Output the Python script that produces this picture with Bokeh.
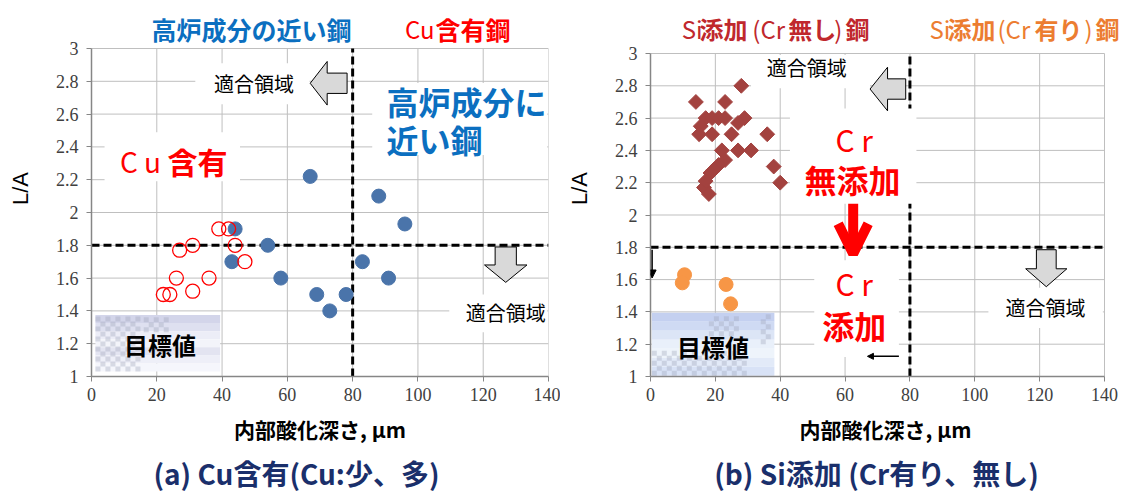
import numpy as np
from bokeh.plotting import figure
from bokeh.layouts import row, column
from bokeh.models import FixedTicker, Label, Arrow, OpenHead, NormalHead, Range1d
from bokeh.core.properties import value
from bokeh.embed import file_html
from bokeh.resources import INLINE

# ---- axis ticks ----
x_ticks = [0, 20, 40, 60, 80, 100, 120, 140]
y_ticks = [1.0, 1.2, 1.4, 1.6, 1.8, 2.0, 2.2, 2.4, 2.6, 2.8, 3.0]
y_tick_labels = ["1", "1.2", "1.4", "1.6", "1.8", "2", "2.2", "2.4", "2.6", "2.8", "3"]

# ---- (a) Cu-bearing steels ----
bf_depth = [44, 43, 54, 58, 67, 69, 73, 78, 83, 88, 91, 96]
bf_la = [1.90, 1.70, 1.80, 1.60, 2.22, 1.50, 1.40, 1.50, 1.70, 2.10, 1.60, 1.93]
cu_depth = [39, 42, 44, 31, 27, 47, 26, 36, 31, 22, 24]
cu_la = [1.90, 1.90, 1.80, 1.80, 1.77, 1.70, 1.60, 1.60, 1.52, 1.50, 1.50]

# ---- (b) Si-added steels ----
si_nocr_depth = [28, 14, 23, 17, 19, 21, 23, 29, 27, 15.5, 15, 19, 25, 36,
                 22, 27, 31, 23, 21, 19.5, 18.5, 38, 40, 16.5, 17, 18]
si_nocr_la = [2.80, 2.70, 2.70, 2.60, 2.60, 2.60, 2.60, 2.60, 2.57, 2.55, 2.50, 2.50, 2.50, 2.50,
              2.40, 2.40, 2.40, 2.34, 2.31, 2.28, 2.26, 2.30, 2.20, 2.17, 2.21, 2.13]
si_cr_depth = [10.5, 9.8, 23.3, 24.7]
si_cr_la = [1.63, 1.58, 1.57, 1.45]

# target thresholds
depth_limit = 80
la_limit = 1.8

CJK = "Noto Sans CJK JP"
NUM = "Liberation Sans Narrow"
BLUE_TXT = "#0B6FC0"
RED = "#FF0000"
NAVY = "#1A2F6B"
DRED = "#C0282D"
ORG = "#EC7D31"

CAP_H = 48
MAIN_H = 498 - CAP_H
X_MIN, X_MAX = x_ticks[0], x_ticks[-1]
Y_MIN, Y_MAX = y_ticks[0], y_ticks[-1]


def make_fig(width, left, right, y_top, x_right):
    """Chart whose frame also holds the heading band above the axes."""
    p = figure(width=width, height=MAIN_H, x_range=Range1d(X_MIN, x_right),
               y_range=Range1d(Y_MIN, y_top),
               output_backend="svg", toolbar_location=None,
               min_border_left=left, min_border_right=right,
               min_border_top=0, min_border_bottom=MAIN_H - 376)
    p.outline_line_color = None
    p.background_fill_color = "white"
    p.border_fill_color = "white"
    p.grid.visible = False
    p.xaxis.ticker = FixedTicker(ticks=x_ticks)
    p.yaxis.ticker = FixedTicker(ticks=y_ticks)
    p.xaxis.bounds = (X_MIN, X_MAX)
    p.yaxis.bounds = (Y_MIN, Y_MAX)
    p.yaxis.major_label_overrides = {t: s for t, s in zip(y_ticks, y_tick_labels)}
    for ax in (p.xaxis[0], p.yaxis[0]):
        ax.axis_line_color = "#868686"
        ax.axis_line_width = 1.5
        ax.major_tick_line_color = "#868686"
        ax.major_tick_out = 5
        ax.major_tick_in = 0
        ax.minor_tick_line_color = None
        ax.major_label_text_font = NUM
        ax.major_label_text_font_size = "18px"
        ax.major_label_text_color = "#404040"
    p.xaxis.major_label_standoff = 6
    p.yaxis.major_label_standoff = 8
    p.xaxis.axis_label = "内部酸化深さ, μm"
    p.xaxis.axis_label_text_font = CJK
    p.xaxis.axis_label_text_font_size = "21px"
    p.xaxis.axis_label_text_font_style = "bold"
    p.xaxis.axis_label_text_color = "black"
    p.xaxis.axis_label_standoff = 10
    p.yaxis.axis_label = "L/A"
    p.yaxis.axis_label_text_font = "Liberation Sans"
    p.yaxis.axis_label_text_font_size = "22px"
    p.yaxis.axis_label_text_font_style = "normal"
    p.yaxis.axis_label_text_color = "black"
    p.yaxis.axis_label_standoff = 20
    # grid lines limited to the data area
    p.segment(x0=x_ticks, y0=[Y_MIN] * len(x_ticks), x1=x_ticks, y1=[Y_MAX] * len(x_ticks),
              line_color="#BFBFBF", line_width=1)
    p.segment(x0=[X_MIN] * len(y_ticks), y0=y_ticks, x1=[X_MAX] * len(y_ticks), y1=y_ticks,
              line_color="#BFBFBF", line_width=1)
    return p


def text_strip(height, y_top):
    """A bare full-width strip whose data units are page pixels."""
    s = figure(width=1121, height=height, x_range=Range1d(0, 1121),
               y_range=Range1d(y_top + height, y_top), x_axis_type=None, y_axis_type=None,
               output_backend="svg", toolbar_location=None,
               min_border=0, min_border_left=0, min_border_right=0,
               min_border_top=0, min_border_bottom=0)
    s.outline_line_color = None
    s.grid.visible = False
    s.background_fill_color = "white"
    s.border_fill_color = "white"
    return s


def strip_text(s, x, y, t, size, color, bold=False, align="center"):
    s.text(x=[x], y=[y], text=[t], text_font=value(CJK), text_font_size=value(size),
           text_color=color, text_font_style="bold" if bold else "normal",
           text_align=align, text_baseline="middle")


def thresholds(p):
    p.segment(x0=[depth_limit, X_MIN], y0=[Y_MIN, la_limit], x1=[depth_limit, X_MAX], y1=[Y_MAX, la_limit],
              line_color="black", line_width=3, line_dash="8 4")


def white_boxes(p, boxes):
    l, r, b, t = zip(*boxes)
    p.quad(left=l, right=r, bottom=b, top=t, fill_color="white", line_color=None)


def left_block_arrow(p, tip, back, end, cy, hh, bh):
    xs = [tip, back, back, end, end, back, back]
    ys = [cy, cy + hh, cy + bh, cy + bh, cy - bh, cy - bh, cy - hh]
    p.patch(xs, ys, fill_color="#D9D9D9", line_color="black", line_width=1)


def down_block_arrow(p, cx, top, head, tip, hw, bw):
    xs = [cx - bw, cx + bw, cx + bw, cx + hw, cx, cx - hw, cx - bw]
    ys = [top, top, head, head, tip, head, head]
    p.patch(xs, ys, fill_color="#D9D9D9", line_color="black", line_width=1)


def target_box(p, x0, x1, y0, y1, band_colors, checker, pxx, pxy):
    n = len(band_colors)
    edges = np.linspace(y1, y0, n + 1)
    p.quad(left=[x0] * n, right=[x1] * n, top=edges[:-1], bottom=edges[1:],
           fill_color=band_colors, line_color=None)
    cw, ch = 5.0 / pxx, 5.0 / pxy
    cx, cy = [], []
    for (cx0, cx1, cy0, cy1) in checker:
        i = 0
        yy = cy0
        while yy + ch <= cy1 + 1e-9:
            j = 0
            xx = cx0
            while xx + cw <= cx1 + 1e-9:
                if (i + j) % 2 == 0:
                    cx.append(xx + cw / 2)
                    cy.append(yy + ch / 2)
                xx += cw
                j += 1
            yy += ch
            i += 1
    p.rect(x=cx, y=cy, width=cw, height=ch, fill_color="#9EA2B8", fill_alpha=0.35, line_color=None)


def text(p, x, y, s, size, color="black", bold=False, align="center", font=CJK):
    p.add_layout(Label(x=x, y=y, text=s, text_font=font, text_font_size=size,
                       text_color=color, text_font_style="bold" if bold else "normal",
                       text_align=align, text_baseline="middle"))


# ================= (a) =================
pxx_a, pxy_a = 457 / 140, 328 / 2
pa = make_fig(560, 91, 12, Y_MAX + 48 / pxy_a, X_MAX)
thresholds(pa)
white_boxes(pa, [(31.8, 66.8, 2.66, 2.91), (4, 45.5, 2.19, 2.49),
                 (86, 139.6, 2.35, 2.79), (109.6, 139.6, 1.27, 1.50)])
target_box(pa, 1.2, 39.4, 1.03, 1.375,
           ["#D3D5EA", "#DEE0F0", "#ECEDF7", "#F3F4FA", "#E3E4F1", "#EEEFF8", "#F5F6FC"],
           [(1.2, 16, 1.03, 1.375), (16, 24, 1.27, 1.375)], pxx_a, pxy_a)
left_block_arrow(pa, 67, 72.2, 78.3, 2.788, 0.133, 0.062)
down_block_arrow(pa, 126.9, 1.79, 1.68, 1.574, 6.5, 3.25)
pa.scatter(bf_depth, bf_la, marker="circle", size=14, fill_color="#4A74AA", line_color="#4A74AA")
pa.scatter(cu_depth, cu_la, marker="circle", size=14, fill_color=None, line_color=RED, line_width=1.3)

text(pa, 49.8, 2.785, "適合領域", "20px")
text(pa, 126.9, 1.389, "適合領域", "20px")
text(pa, 90.4, 2.682, "高炉成分に", "32px", BLUE_TXT, True, "left")
text(pa, 90.4, 2.446, "近い鋼", "32px", BLUE_TXT, True, "left")
text(pa, 15, 2.312, "C u", "28px", RED)
text(pa, 32.5, 2.312, "含有", "30px", RED, True)
text(pa, 21, 1.195, "目標値", "24px", "black", True)
# heading band
hy_a = Y_MAX + 20 / pxy_a
text(pa, 49.0, hy_a, "高炉成分の近い鋼", "25px", BLUE_TXT, True)
text(pa, 105.1, hy_a, "Cu", "24px", RED, False, "right")
text(pa, 105.4, hy_a, "含有鋼", "25px", RED, True, "left")

# ================= (b) =================
pxx_b, pxy_b = 454 / 140, 323 / 2
pb = make_fig(561, 90, 1, Y_MAX + 53 / pxy_b, X_MAX + 16 / pxx_b)
thresholds(pb)
white_boxes(pb, [(31, 67.7, 2.785, 2.99), (43, 82, 2.07, 2.66),
                 (50.5, 76.6, 1.12, 1.72), (104.2, 139.5, 1.30, 1.55)])
target_box(pb, 0.4, 38.2, 1.005, 1.394,
           ["#C4D0F0", "#CFDAF3", "#DCE5F6", "#E9F0FA", "#EEF4FB", "#E2EAF8", "#D8E2F6"],
           [(0.4, 30, 1.005, 1.17), (18, 28, 1.25, 1.394), (34, 38.2, 1.2, 1.394)], pxx_b, pxy_b)
left_block_arrow(pb, 67.7, 73.1, 78.7, 2.78, 0.135, 0.063)
down_block_arrow(pb, 122.05, 1.785, 1.667, 1.556, 6.35, 3.05)
pb.scatter(si_nocr_depth, si_nocr_la, marker="square", angle=np.pi / 4, size=10.5,
           fill_color="#A3423F", line_color="#A3423F")
pb.scatter(si_cr_depth, si_cr_la, marker="circle", size=14, fill_color="#F79646", line_color="#F79646")

pb.add_layout(Arrow(x_start=62.5, y_start=2.07, x_end=62.5, y_end=1.76,
                    line_color=RED, line_width=10,
                    end=OpenHead(size=30, line_width=10, line_color=RED)))
pb.add_layout(Arrow(x_start=0.5, y_start=1.785, x_end=0.5, y_end=1.61, line_color="black", line_width=1.5,
                    end=NormalHead(size=8, fill_color="black", line_color="black")))
pb.add_layout(Arrow(x_start=76.6, y_start=1.125, x_end=66.9, y_end=1.125, line_color="black", line_width=1.5,
                    end=NormalHead(size=6, fill_color="black", line_color="black")))

text(pb, 48.2, 2.913, "適合領域", "20px")
text(pb, 121.8, 1.427, "適合領域", "20px")
text(pb, 62.8, 2.47, "C r", "30px", RED)
text(pb, 62.3, 2.223, "無添加", "32px", RED, True)
text(pb, 62.8, 1.58, "C r", "30px", RED)
text(pb, 62.8, 1.32, "添加", "32px", RED, True)
text(pb, 19.3, 1.187, "目標値", "24px", "black", True)
# heading band, split by weight
hy_b = Y_MAX + 25 / pxy_b
for x, s, b in [(9.6, "Si", False), (15.1, "添加", True), (31.4, "(Cr", False),
                (42.5, "無し", True), (56.7, ")", False), (60.1, "鋼", True)]:
    text(pb, x, hy_b, s, "24px", DRED, b, "left")
for x, s, b in [(86.0, "Si", False), (91.6, "添加", True), (107.0, "(Cr", False),
                (118.4, "有り", True), (133.8, ")", False), (137.2, "鋼", True)]:
    text(pb, x, hy_b, s, "24px", ORG, b, "left")

# ================= captions =================
cap = text_strip(CAP_H, MAIN_H)
strip_text(cap, 296, 472, "(a) Cu含有(Cu:少、多)", "28px", NAVY, True)
strip_text(cap, 876, 472, "(b) Si添加 (Cr有り、無し)", "28px", NAVY, True)

layout = column(row(pa, pb, spacing=0), cap, spacing=0)
open("out.html", "w").write(file_html(layout, INLINE))
